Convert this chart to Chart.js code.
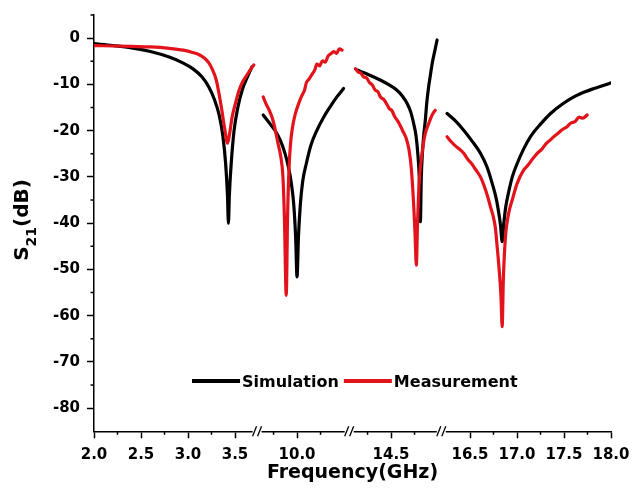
<!DOCTYPE html>
<html>
<head>
<meta charset="utf-8">
<script src="https://cdn.jsdelivr.net/npm/chart.js@4"></script>
<style>
  html, body { margin: 0; padding: 0; background: #fff; }
</style>
</head>
<body>
<canvas id="c" width="633" height="498"></canvas>
<script>
// ── eixo x quebrado: 4 trechos de frequência (GHz) ─────────────
const SEG_RANGE = [[2.0, 3.74], [9.58, 10.56], [14.06, 15.04], [16.2, 18.0]];
const SEG_MAJOR = [[2.0, 2.5, 3.0, 3.5], [10.0], [14.5], [16.5, 17.0, 17.5, 18.0]];
const SEG_MINOR = [[2.25, 2.75, 3.25], [9.75, 10.25], [14.25, 14.75], [16.75, 17.25, 17.75]];
const Y_MAJOR = [-80, -70, -60, -50, -40, -30, -20, -10, 0];
const Y_MINOR = [-75, -65, -55, -45, -35, -25, -15, -5, 5];
const SERIES = ['Simulation', 'Measurement'];

// ── Simulação ──
const simF1  = [2.0, 2.2, 2.4, 2.6, 2.8, 2.95, 3.05, 3.15, 3.22, 3.28, 3.33, 3.37, 3.40, 3.42, 3.43, 3.44, 3.46, 3.49, 3.53, 3.58, 3.63, 3.68];
const simDb1 = [-1.2, -1.6, -2.1, -2.9, -4.1, -5.4, -6.6, -8.4, -10.5, -13.2, -16.5, -21, -27, -34, -40, -34, -27, -20, -15, -11, -8.5, -6.2];
const simF2  = [9.64, 9.70, 9.76, 9.82, 9.87, 9.91, 9.94, 9.965, 9.985, 10.0, 10.015, 10.035, 10.06, 10.10, 10.15, 10.21, 10.28, 10.35, 10.42, 10.495];
const simDb2 = [-16.6, -18.2, -19.8, -22, -24.8, -28, -31.5, -36, -43, -51.6, -43, -36, -31, -27, -23, -20, -17.2, -14.9, -12.8, -10.9];
const simF3  = [14.14, 14.25, 14.39, 14.48, 14.56, 14.62, 14.67, 14.71, 14.74, 14.765, 14.785, 14.80, 14.812, 14.822, 14.835, 14.85, 14.865, 14.88, 14.9, 14.92, 14.94, 14.965, 14.99];
const simDb3 = [-6.9, -7.8, -9.1, -10.1, -11.2, -12.5, -14.1, -16, -18.4, -21, -25, -30, -39.7, -30, -24.5, -20.5, -17.7, -14, -10.5, -7.8, -5.2, -2.8, -0.4];
const simF4  = [16.256, 16.35, 16.433, 16.52, 16.611, 16.68, 16.736, 16.78, 16.806, 16.825, 16.842, 16.86, 16.88, 16.912, 16.95, 17.002, 17.07, 17.144, 17.25, 17.357, 17.48, 17.605, 17.71, 17.818, 17.91, 17.996];
const simDb4 = [-16.3, -18, -19.9, -22.2, -24.9, -27.8, -31.4, -34.8, -37.8, -40.5, -44, -40, -36.5, -33.2, -30, -27.1, -24, -21.3, -18.6, -16.3, -14.3, -12.7, -11.7, -10.9, -10.3, -9.7];

// ── Medição ──
const measF1  = [2.0, 2.2, 2.4, 2.6, 2.8, 2.95, 3.05, 3.12, 3.18, 3.22, 3.26, 3.30, 3.33, 3.36, 3.39, 3.42, 3.44, 3.47, 3.50, 3.54, 3.58, 3.62, 3.66, 3.70];
const measDb1 = [-1.6, -1.7, -1.8, -1.9, -2.2, -2.6, -3.1, -3.6, -4.4, -5.3, -6.8, -9, -12, -15.6, -19.5, -22.7, -21, -17, -14.5, -11.5, -9.5, -8.2, -6.9, -5.8];
const measF2  = [9.64, 9.67, 9.70, 9.74, 9.77, 9.80, 9.83, 9.85, 9.866, 9.885, 9.90, 9.915, 9.93, 9.95, 9.98, 10.02, 10.05, 10.08, 10.10, 10.13, 10.16, 10.19, 10.21, 10.24, 10.27, 10.30, 10.33, 10.36, 10.39, 10.42, 10.45, 10.48];
const measDb2 = [-12.7, -14.2, -15.4, -17.5, -20, -23, -26, -30, -39, -55.6, -38, -28, -23, -19.5, -16.5, -14, -12.5, -11.2, -9.6, -8.8, -7.8, -6.8, -5.6, -6.0, -4.9, -5.2, -3.9, -3.4, -2.9, -3.3, -2.3, -2.6];
const measF3  = [14.12, 14.15, 14.18, 14.21, 14.24, 14.27, 14.30, 14.33, 14.36, 14.39, 14.42, 14.45, 14.48, 14.51, 14.54, 14.57, 14.60, 14.63, 14.66, 14.69, 14.715, 14.74, 14.755, 14.769, 14.782, 14.80, 14.83, 14.86, 14.90, 14.94, 14.97];
const measDb3 = [-6.6, -7.3, -7.6, -8.4, -8.6, -9.6, -10.1, -11.2, -11.6, -12.8, -13.2, -14.1, -15.2, -15.7, -17, -17.9, -19, -20.3, -21.6, -24, -28, -35.7, -42, -49.1, -40, -31, -24.9, -21, -18.5, -16.5, -15.6];
const measF4  = [16.256, 16.3, 16.35, 16.4, 16.433, 16.48, 16.52, 16.56, 16.611, 16.65, 16.69, 16.718, 16.75, 16.77, 16.789, 16.81, 16.83, 16.842, 16.855, 16.877, 16.91, 16.949, 17.0, 17.072, 17.12, 17.17, 17.215, 17.26, 17.31, 17.35, 17.392, 17.44, 17.48, 17.53, 17.57, 17.62, 17.66, 17.7, 17.747];
const measDb4 = [-21.3, -22.4, -23.4, -24.2, -24.9, -26.3, -27.2, -28.4, -30, -31.9, -34.4, -36.5, -38.8, -41, -45.1, -50, -56, -62.4, -52, -43, -38, -35, -31.5, -28.5, -27.4, -26, -24.9, -24.1, -22.8, -22.1, -21.3, -20.5, -19.8, -19.2, -18.4, -18, -17.1, -17.3, -16.6];

const FONT = '"DejaVu Sans", sans-serif';
const COR = { Simulation: '#000000', Measurement: '#e3131b' };
const X_AXIS_H = 27.9;

const pts = (f, d) => f.map((x, i) => ({ x, y: d[i] }));
const simSeg  = [[simF1, simDb1], [simF2, simDb2], [simF3, simDb3], [simF4, simDb4]];
const measSeg = [[measF1, measDb1], [measF2, measDb2], [measF3, measDb3], [measF4, measDb4]];

function ds(label, seg, i) {
  return {
    label, xAxisID: 'x' + i, data: pts(seg[0], seg[1]),
    borderColor: COR[label], borderWidth: 3.2, pointRadius: 0,
    cubicInterpolationMode: 'monotone', borderJoinStyle: 'round', borderCapStyle: 'round',
  };
}
// medição primeiro -> desenhada por cima
const datasets = [
  ...measSeg.map((s, i) => ds('Measurement', s, i)),
  ...simSeg.map((s, i) => ds('Simulation', s, i)),
];

const tickFont = { family: FONT, size: 15, weight: 'bold' };
const gridOpts = { display: true, drawOnChartArea: false, drawTicks: true, tickLength: 7, tickWidth: 1.5, tickColor: '#000' };
const borderOpts = { display: true, color: '#000', width: 1.5 };

function xScale(i) {
  const [a, b] = SEG_RANGE[i];
  return {
    type: 'linear', position: 'bottom', stack: 'freq', stackWeight: b - a,
    min: a, max: b,
    afterBuildTicks: s => { s.ticks = SEG_MAJOR[i].map(v => ({ value: v })); },
    afterFit: s => { s.height = X_AXIS_H; s.paddingLeft = 0; s.paddingRight = 0; },
    grid: gridOpts, border: borderOpts,
    ticks: { autoSkip: false, maxRotation: 0, padding: 8, color: '#000', font: tickFont, callback: v => Number(v).toFixed(1) },
  };
}

const scales = { x0: xScale(0), x1: xScale(1), x2: xScale(2), x3: xScale(3) };
scales.y = {
  type: 'linear', position: 'left', min: -85, max: 5,
  afterBuildTicks: s => { s.ticks = Y_MAJOR.map(v => ({ value: v })); },
  afterFit: s => { s.width = 94; s.paddingTop = 0; s.paddingBottom = 0; },
  grid: gridOpts, border: borderOpts,
  ticks: { padding: 7, color: '#000', font: tickFont, callback: v => String(v) },
};

// ── ticks menores, quebras "//", título do eixo y e legenda ──
const decor = {
  id: 'decor',
  afterDraw(chart) {
    const { ctx, chartArea: a } = chart;
    const sc = chart.scales;
    const seg = (x1, y1, x2, y2) => { ctx.beginPath(); ctx.moveTo(x1, y1); ctx.lineTo(x2, y2); ctx.stroke(); };
    ctx.save();
    ctx.strokeStyle = '#000'; ctx.lineWidth = 1.5;
    SEG_MINOR.forEach((vals, i) => vals.forEach(v => {
      const px = sc['x' + i].getPixelForValue(v);
      seg(px, a.bottom, px, a.bottom + 3.5);
    }));
    Y_MINOR.forEach(v => {
      const py = sc.y.getPixelForValue(v);
      seg(a.left - 3.5, py, a.left, py);
    });

    // quebras
    for (let i = 0; i < 3; i++) {
      const bx = sc['x' + i].right;
      ctx.fillStyle = '#fff';
      ctx.fillRect(bx - 5, a.bottom - 2, 9, 4);
      ctx.lineWidth = 1.3;
      seg(bx - 5, a.bottom + 5, bx - 1, a.bottom - 5);
      seg(bx, a.bottom + 5, bx + 4, a.bottom - 5);
    }

    // título eixo y: S21(dB) com subscrito
    ctx.fillStyle = '#000';
    ctx.translate(28, 220);
    ctx.rotate(-Math.PI / 2);
    const big = 'bold 20px ' + FONT, small = 'bold 14px ' + FONT;
    ctx.font = big; const wS = ctx.measureText('S').width, wP = ctx.measureText('(dB)').width;
    ctx.font = small; const w21 = ctx.measureText('21').width;
    let x = -(wS + w21 + wP) / 2;
    ctx.textBaseline = 'alphabetic'; ctx.textAlign = 'left';
    ctx.font = big; ctx.fillText('S', x, 0); x += wS;
    ctx.font = small; ctx.fillText('21', x, 7.5); x += w21;
    ctx.font = big; ctx.fillText('(dB)', x, 0);
    ctx.setTransform(1, 0, 0, 1, 0, 0);

    // legenda
    const ly = 381;
    let lx = 192;
    ctx.font = 'bold 16px ' + FONT;
    SERIES.forEach(name => {
      ctx.strokeStyle = COR[name]; ctx.lineWidth = 4; ctx.lineCap = 'butt';
      seg(lx, ly, lx + 48, ly);
      ctx.fillStyle = '#000';
      ctx.fillText(name, lx + 50, ly + 6);
      lx += 50 + ctx.measureText(name).width + 5;
    });
    ctx.restore();
  }
};

new Chart(document.getElementById('c'), {
  type: 'line',
  data: { datasets },
  options: {
    responsive: false, animation: false, parsing: true,
    layout: { padding: { left: 0, right: 22, top: 15, bottom: 0 } },
    scales,
    plugins: {
      legend: { display: false },
      tooltip: { enabled: false },
      title: {
        display: true, text: 'Frequency(GHz)', position: 'bottom', fullSize: false,
        color: '#000', font: { family: FONT, size: 19, weight: 'bold' }, padding: { top: 2, bottom: 14 },
      },
    },
  },
  plugins: [decor],
});
</script>
</body>
</html>
